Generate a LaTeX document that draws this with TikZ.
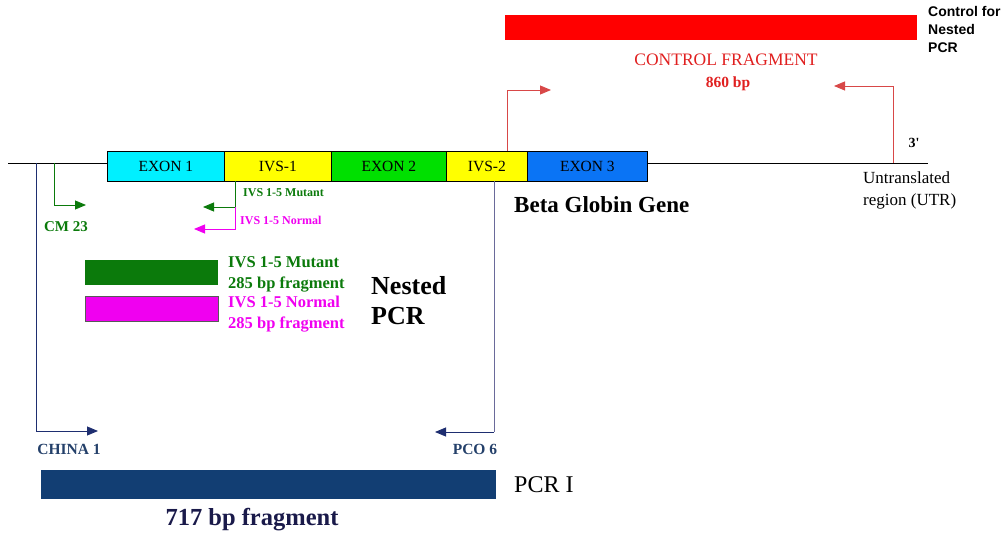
\documentclass[tikz,border=0pt]{standalone}
\usepackage{fontspec}
\setmainfont{Liberation Serif}
\setsansfont{Liberation Sans}
\usetikzlibrary{arrows.meta}
\definecolor{cyanx}{HTML}{00F0FF}
\definecolor{yellx}{HTML}{FFFF00}
\definecolor{greenx}{HTML}{00E000}
\definecolor{bluex}{HTML}{0A74F5}
\definecolor{dgreen}{HTML}{0B7A0B}
\definecolor{magx}{HTML}{F000F0}
\definecolor{navy}{HTML}{123E73}
\definecolor{navyline}{HTML}{1E2E70}
\definecolor{navytext}{HTML}{24406A}
\definecolor{purpline}{HTML}{6A6A9A}
\definecolor{redx}{HTML}{FF0000}
\definecolor{redline}{HTML}{D84848}
\definecolor{redtext}{HTML}{E02020}
\definecolor{darktext}{HTML}{1A1A4A}
\begin{document}
\begin{tikzpicture}[x=1pt,y=-1pt,
  seg/.style={draw=black,line width=0.8pt,minimum height=30pt,inner sep=0pt,anchor=north west,font=\fontsize{15.5}{15.5}\selectfont},
  bar/.style={inner sep=0pt,anchor=north west},
  lbl/.style={inner sep=0pt,font=\bfseries\fontsize{15.5}{15.5}\selectfont},
  parr/.style={line width=0.9pt,-{Triangle[length=11pt,width=9pt]}},
  ]
\useasboundingbox (0,0) rectangle (1006,537);
% gene line
\coordinate (gl) at (8,163);
\coordinate (gr) at (928,163);
\node[seg,fill=cyanx,minimum width=117pt] (e1) at (107,151) {EXON 1};
\node[seg,fill=yellx,minimum width=107pt] (i1) at (224,151) {IVS-1};
\node[seg,fill=greenx,minimum width=115pt] (e2) at (331,151) {EXON 2};
\node[seg,fill=yellx,minimum width=81pt] (i2) at (446,151) {IVS-2};
\node[seg,fill=bluex,minimum width=120pt] (e3) at (527,151) {EXON 3};
\draw[line width=0.8pt] (gl) -- (gl -| e1.west);
\draw[line width=0.8pt] (gr -| e3.east) -- (gr);
% CHINA 1
\coordinate (c1a) at (36,163);
\coordinate (c1b) at (36,431);
\coordinate (c1c) at (98,431);
\draw[parr,navyline] (c1a) -- (c1b) -- (c1c);
\node[lbl,navytext] (china) at (69,449) {CHINA 1};
% CM 23
\coordinate (cma) at (54,163);
\coordinate (cmb) at (54,205);
\coordinate (cmc) at (86,205);
\draw[parr,dgreen] (cma) -- (cmb) -- (cmc);
\node[lbl,dgreen,font=\bfseries\fontsize{15}{15}\selectfont] (cm) at (66,227) {CM 23};
% IVS 1-5 primers
\coordinate (iva) at (235,181);
\coordinate (ivb) at (235,207);
\coordinate (ivc) at (203,207);
\coordinate (ivd) at (235,229);
\coordinate (ive) at (194,229);
\draw[parr,dgreen] (iva) -- (ivb) -- (ivc);
\draw[parr,magx] (ivb) -- (ivd) -- (ive);
\node[lbl,dgreen,anchor=west,font=\bfseries\fontsize{12}{12}\selectfont] (ivm) at (243,193) {IVS 1-5 Mutant};
\node[lbl,magx,anchor=west,font=\bfseries\fontsize{12}{12}\selectfont] (ivn) at (240,220) {IVS 1-5 Normal};
% PCO 6
\coordinate (pa) at (494,181);
\coordinate (pb) at (494,432);
\coordinate (pc) at (435,432);
\draw[line width=0.9pt,purpline] (pa) -- (pb);
\draw[parr,navyline] (pb) -- (pc);
\node[lbl,navytext] (pco) at (475,449) {PCO 6};
% red primers
\coordinate (ra) at (507,151);
\coordinate (rb) at (507,90);
\coordinate (rc) at (551,90);
\draw[parr,redline] (ra) -- (rb) -- (rc);
\coordinate (sa) at (893,163);
\coordinate (sb) at (893,86);
\coordinate (sc) at (834,86);
\draw[parr,redline] (sa) -- (sb) -- (sc);
% control fragment
\node[bar,fill=redx,minimum width=412pt,minimum height=25pt] (cf) at (505,15) {};
\node[anchor=north west,inner sep=0pt,align=left,font=\sffamily\bfseries\fontsize{14}{18}\selectfont] (cft) at (928,6) {Control for\\Nested\\PCR};
\node[redtext,font=\fontsize{17.5}{17.5}\selectfont] (cfl) at (726,60) {CONTROL FRAGMENT};
\node[redtext,font=\bfseries\fontsize{15.5}{15.5}\selectfont] (cfs) at (728,84) {860 bp};
\node[font=\bfseries\fontsize{14}{14}\selectfont] (three) at (914,143) {3\textquotesingle};
\node[anchor=west,inner sep=0pt,align=left,font=\fontsize{17}{22}\selectfont] (utr) at (863,190) {Untranslated\\region (UTR)};
\node[anchor=west,inner sep=0pt,font=\bfseries\fontsize{23}{23}\selectfont] (bgg) at (514,205) {Beta Globin Gene};
% nested PCR
\node[bar,fill=dgreen,minimum width=133pt,minimum height=25pt] (gb) at (85,260) {};
\node[bar,fill=magx,draw=gray!70!black,line width=0.8pt,minimum width=133pt,minimum height=25pt] (mb) at (85,296) {};
\node[anchor=west,inner sep=0pt,align=left,dgreen,font=\bfseries\fontsize{16.5}{21}\selectfont] (gt) at (228,274) {IVS 1-5 Mutant\\285 bp fragment};
\node[anchor=west,inner sep=0pt,align=left,magx,font=\bfseries\fontsize{16.5}{21}\selectfont] (mt) at (228,314) {IVS 1-5 Normal\\285 bp fragment};
\node[anchor=west,inner sep=0pt,align=left,font=\bfseries\fontsize{26}{30}\selectfont] (np) at (371,301) {Nested\\PCR};
% PCR I
\node[bar,fill=navy,minimum width=455pt,minimum height=29pt] (pb1) at (41,470) {};
\node[anchor=west,inner sep=0pt,font=\fontsize{24}{24}\selectfont] (pcr1) at (514,485) {PCR I};
\node[darktext,font=\bfseries\fontsize{24.5}{24.5}\selectfont] (frag) at (252,520) {717 bp fragment};
\end{tikzpicture}
\end{document}
